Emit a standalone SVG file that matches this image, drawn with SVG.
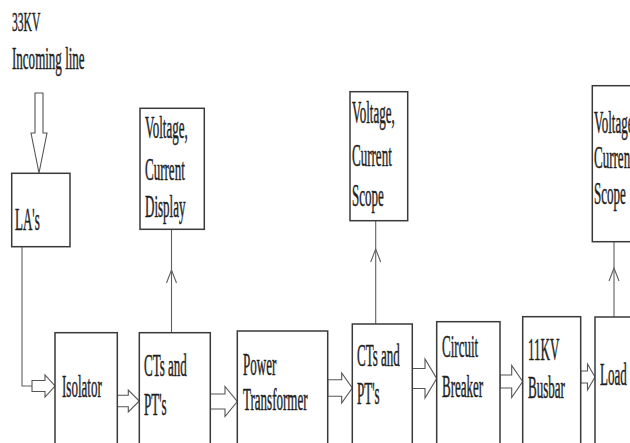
<svg xmlns="http://www.w3.org/2000/svg" width="630" height="443" viewBox="0 0 630 443">
<style>
.box{fill:#fff;stroke:#3a3a3a;stroke-width:1.5}
.t{font-family:"Liberation Serif","Times New Roman",serif;font-size:31px;fill:#1e1e1e;stroke:#1e1e1e;stroke-width:0.5}
.s{font-size:27px}
.ln{fill:none;stroke:#606060;stroke-width:1.1}
.ar{fill:#fff;stroke:#555;stroke-width:1.1;stroke-linejoin:miter}
</style>
<rect width="630" height="443" fill="#fff"/>
<g id="input">
<text class="t s" transform="translate(12,31) scale(0.43,1)">33KV</text>
<text class="t" transform="translate(12,69) scale(0.42,1)">Incoming line</text>
</g>
<g id="connectors">
<polygon class="ar" points="35,93 43,93 43,133 47,133 39,173 31,133 35,133"/>
<polyline class="ln" points="22,247 22,386 32,386"/>
<polygon class="ar" points="32,380.5 45,380.5 45,375 55,386 45,397 45,391.5 32,391.5"/>
<polygon class="ar" points="117.3,395.2 128.3,395.2 128.3,390 139.3,401 128.3,412 128.3,406.8 117.3,406.8"/>
<polygon class="ar" points="210,394 225,394 225,386.5 237.3,401.5 225,416.5 225,409 210,409"/>
<polygon class="ar" points="327.7,379.7 341.7,379.7 341.7,373 352.3,388 341.7,403 341.7,396.3 327.7,396.3"/>
<polygon class="ar" points="412.3,368.5 425,368.5 425,359 436.7,378.5 425,398 425,388.5 412.3,388.5"/>
<polygon class="ar" points="500,375 511.7,375 511.7,365.5 522.7,381.5 511.7,397.5 511.7,388 500,388"/>
<polygon class="ar" points="580.7,371 587.5,371 587.5,364 595,377 587.5,390 587.5,383 580.7,383"/>
<line class="ln" x1="171.5" y1="229" x2="171.5" y2="333"/>
<polyline class="ln" points="166.5,283 171.5,270 176.5,283"/>
<line class="ln" x1="375.7" y1="221" x2="375.7" y2="324"/>
<polyline class="ln" points="370.7,262 375.7,249 380.7,262"/>
<line class="ln" x1="614" y1="242" x2="614" y2="317"/>
<polyline class="ln" points="609,281 614,268 619,281"/>
</g>
<g id="las">
<rect class="box" x="11.7" y="173.3" width="58.3" height="73.4"/>
<text class="t" transform="translate(15,230) scale(0.42,1)">LA's</text>
</g>
<g id="display">
<rect class="box" x="140" y="108.3" width="64.3" height="121"/>
<text class="t" transform="translate(145,138) scale(0.42,1)">Voltage,</text>
<text class="t" transform="translate(145,180) scale(0.42,1)">Current</text>
<text class="t" transform="translate(145,217) scale(0.42,1)">Display</text>
</g>
<g id="isolator">
<rect class="box" x="55" y="332.7" width="62.3" height="120"/>
<text class="t" transform="translate(62,397) scale(0.42,1)">Isolator</text>
</g>
<g id="cts1">
<rect class="box" x="139.3" y="332.7" width="71" height="120"/>
<text class="t" transform="translate(144,376) scale(0.42,1)">CTs and</text>
<text class="t" transform="translate(144,415) scale(0.42,1)">PT's</text>
</g>
<g id="transformer">
<rect class="box" x="237.3" y="331" width="90.4" height="120"/>
<text class="t" transform="translate(243,375) scale(0.42,1)">Power</text>
<text class="t" transform="translate(243,410) scale(0.42,1)">Transformer</text>
</g>
<g id="cts2">
<rect class="box" x="352.3" y="324" width="60" height="130"/>
<text class="t" transform="translate(357,366) scale(0.42,1)">CTs and</text>
<text class="t" transform="translate(357,404) scale(0.42,1)">PT's</text>
</g>
<g id="scope2">
<rect class="box" x="350" y="91.7" width="57.7" height="129"/>
<text class="t" transform="translate(352,123) scale(0.42,1)">Voltage,</text>
<text class="t" transform="translate(352,166) scale(0.42,1)">Current</text>
<text class="t" transform="translate(352,206) scale(0.42,1)">Scope</text>
</g>
<g id="breaker">
<rect class="box" x="436.7" y="321.7" width="63.3" height="130"/>
<text class="t" transform="translate(442,357) scale(0.42,1)">Circuit</text>
<text class="t" transform="translate(442,397) scale(0.42,1)">Breaker</text>
</g>
<g id="busbar">
<rect class="box" x="522.7" y="316.7" width="58" height="135"/>
<text class="t" transform="translate(528,360) scale(0.42,1)">11KV</text>
<text class="t" transform="translate(528,398) scale(0.42,1)">Busbar</text>
</g>
<g id="load">
<rect class="box" x="595" y="317" width="50" height="135"/>
<text class="t" transform="translate(600,385) scale(0.42,1)">Load</text>
</g>
<g id="scope3">
<rect class="box" x="592.3" y="85.7" width="52" height="156"/>
<text class="t" transform="translate(594,133) scale(0.42,1)">Voltage,</text>
<text class="t" transform="translate(594,168) scale(0.42,1)">Current</text>
<text class="t" transform="translate(594,204) scale(0.42,1)">Scope</text>
</g>
</svg>
